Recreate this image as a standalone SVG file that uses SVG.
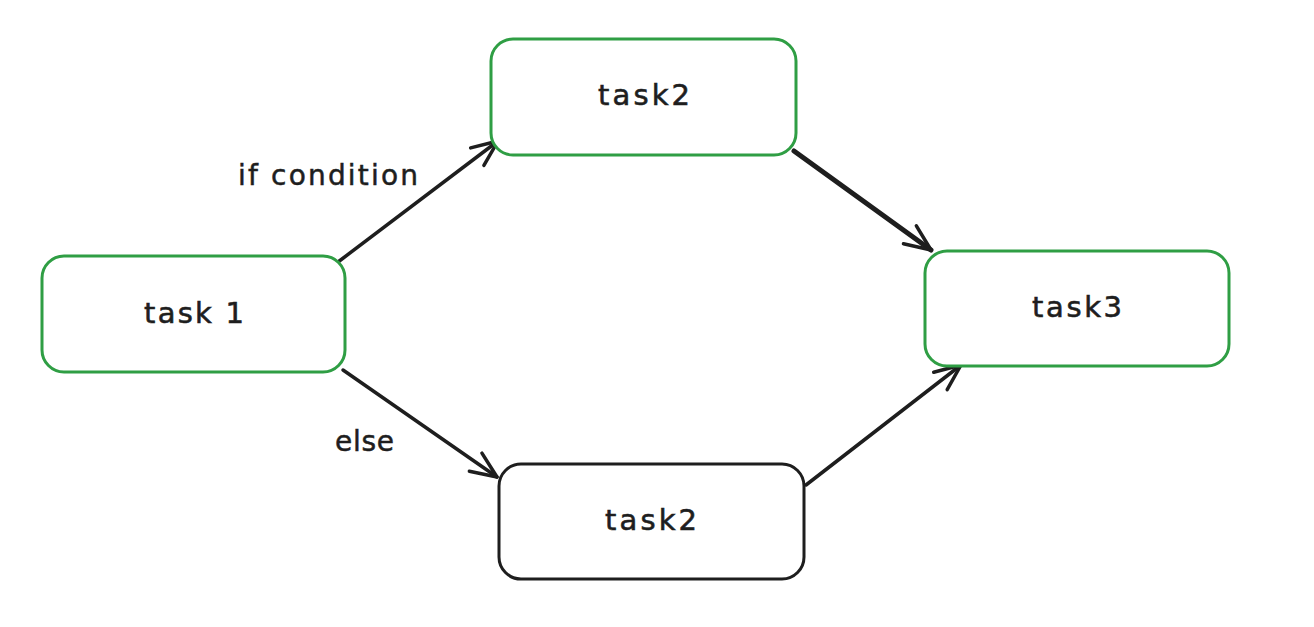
<svg xmlns="http://www.w3.org/2000/svg" width="1314" height="627" viewBox="0 0 1314 627">
<style>
.box{fill:#fff;stroke-width:3}
.g{stroke:#2f9e44}
.k{stroke:#1e1e1e}
.lbl{font-family:"DejaVu Sans","Liberation Sans",sans-serif;font-size:29px;fill:#1e1e1e;stroke:#1e1e1e;stroke-width:0.6;text-anchor:middle;dominant-baseline:central}
.edge{fill:none;stroke:#1e1e1e;stroke-width:3.5;stroke-linecap:round}
.elbl{font-family:"DejaVu Sans","Liberation Sans",sans-serif;font-size:28px;fill:#1e1e1e;stroke:#1e1e1e;stroke-width:0.5}
</style>
<defs>
<marker id="ah" markerUnits="userSpaceOnUse" viewBox="-30 -15 32 30" refX="0" refY="0" markerWidth="32" markerHeight="30" orient="auto">
<path d="M-26,-11 L0,0 L-26,11" fill="none" stroke="#1e1e1e" stroke-width="3.5" stroke-linecap="round" stroke-linejoin="round"/>
</marker>
</defs>
<rect width="1314" height="627" fill="#fff"/>
<g id="connectors">
<line class="edge" x1="338" y1="262" x2="498" y2="141" marker-end="url(#ah)"/>
<line class="edge" x1="794" y1="151" x2="931" y2="250" marker-end="url(#ah)" style="stroke-width:5"/>
<line class="edge" x1="343" y1="370" x2="497" y2="477" marker-end="url(#ah)"/>
<line class="edge" x1="806" y1="485" x2="961" y2="365" marker-end="url(#ah)"/>
<text class="elbl" x="238" y="185" textLength="180" lengthAdjust="spacing">if condition</text>
<text class="elbl" x="335" y="451" textLength="59" lengthAdjust="spacing">else</text>
</g>
<g id="task1">
<rect class="box g" x="42" y="256" width="303" height="116" rx="22"/>
<text class="lbl" x="194" y="313" textLength="100" lengthAdjust="spacing">task 1</text>
</g>
<g id="task2-top">
<rect class="box g" x="491" y="39" width="305" height="116" rx="22"/>
<text class="lbl" x="644" y="95" textLength="92" lengthAdjust="spacing">task2</text>
</g>
<g id="task3">
<rect class="box g" x="925" y="251" width="304" height="115" rx="22"/>
<text class="lbl" x="1077" y="307" textLength="90" lengthAdjust="spacing">task3</text>
</g>
<g id="task2-bottom">
<rect class="box k" x="499" y="464" width="305" height="115" rx="22"/>
<text class="lbl" x="651" y="520" textLength="92" lengthAdjust="spacing">task2</text>
</g>
</svg>
